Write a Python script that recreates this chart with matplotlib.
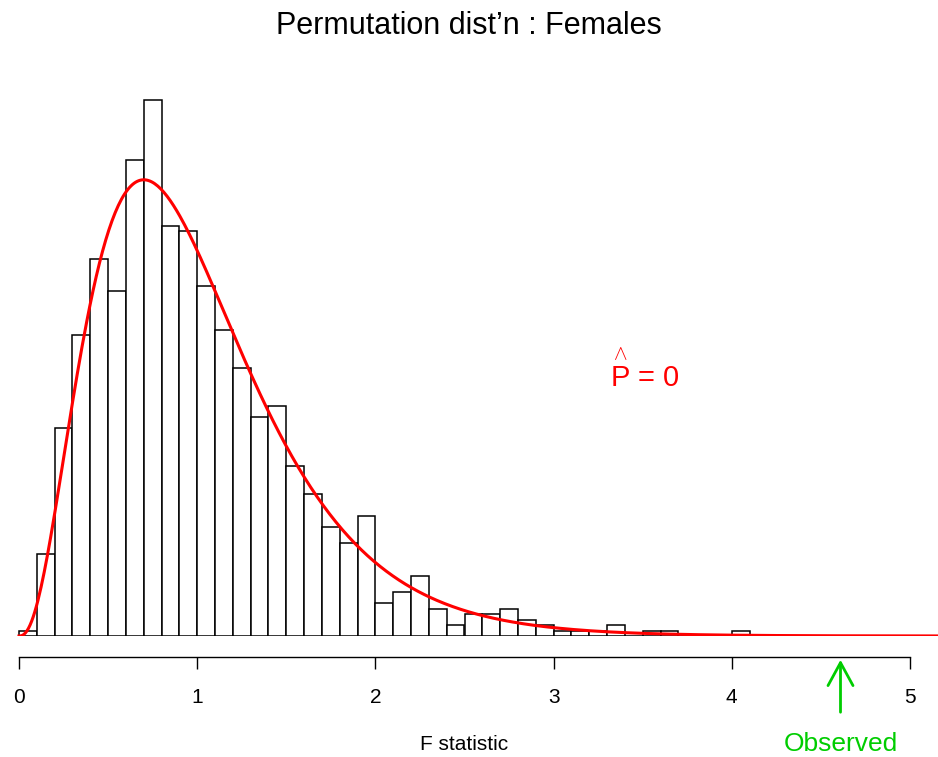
import math

import matplotlib
matplotlib.use('Agg')
import matplotlib.pyplot as plt
import numpy as np

plt.rcParams['font.family'] = ['Liberation Sans', 'DejaVu Sans']
plt.rcParams['mathtext.fontset'] = 'custom'
plt.rcParams['mathtext.rm'] = 'Liberation Sans'

# permutation counts in bins of width 0.1, starting at 0 (1000 permutations)
bin_left = np.round(np.arange(0, 4.1, 0.1), 1)
counts = [1, 15, 38, 55, 69, 63, 87, 98, 75, 74,
          64, 56, 49, 40, 42, 31, 26, 20, 17, 22,
          6, 8, 11, 5, 2, 4, 4, 5, 3, 2,
          1, 1, 1, 2, 0, 1, 1, 0, 0, 0,
          1]
n_perm = 1000
bin_width = 0.1
df1, df2 = 7, 100
observed = 4.61
p_hat = 0
x_ticks = [0, 1, 2, 3, 4, 5]


def f_pdf(x, d1, d2):
    x = np.asarray(x, dtype=float)
    out = np.zeros_like(x)
    pos = x > 0
    xp = x[pos]
    logc = (math.lgamma((d1 + d2) / 2) - math.lgamma(d1 / 2) - math.lgamma(d2 / 2)
            + (d1 / 2) * math.log(d1 / d2))
    out[pos] = np.exp(logc + (d1 / 2 - 1) * np.log(xp)
                      - ((d1 + d2) / 2) * np.log1p(d1 * xp / d2))
    return out


W, H = 938, 757
fig = plt.figure(figsize=(W / 100, H / 100), dpi=100)
# baseline at y px 636, density 1.0 spans 547 px
ax = fig.add_axes([0, (H - 636) / H, 1, 547 / H])
px_per_unit = (910 - 19) / 5
ax.set_xlim(-19 / px_per_unit, (W - 19) / px_per_unit)
ax.set_ylim(0, 1.0)

density = np.array(counts) / (n_perm * bin_width)
ax.bar(bin_left, density, width=bin_width, align='edge',
       facecolor='white', edgecolor='black', linewidth=1.1)

xs = np.linspace(0, 5.3, 600)
ax.plot(xs, f_pdf(xs, df1, df2), color='red', lw=2.2, clip_on=True)

ax.text(3.315, 0.485, r'$\overset{\wedge}{\mathrm{P}}$ = %d' % p_hat,
        color='red', fontsize=21, ha='left', va='center')

for s in ['top', 'left', 'right']:
    ax.spines[s].set_visible(False)
ax.spines['bottom'].set_position(('outward', 21 * 72 / 100))
ax.spines['bottom'].set_bounds(0, 5)
ax.spines['bottom'].set_linewidth(1.0)
ax.set_yticks([])
ax.set_xticks(x_ticks)
ax.set_xticklabels([str(t) for t in x_ticks])
ax.tick_params(axis='x', length=12 * 72 / 100, width=1.0, labelsize=15, pad=14)

fig.text(0.5, 1 - 26 / H, "Permutation dist\u2019n : Females", ha='center',
         va='center', fontsize=22)
fig.text(464 / W, 1 - 745 / H, 'F statistic',
         ha='center', va='center', fontsize=15)

# observed arrow below the axis
obs_px = 19 + observed * px_per_unit
ax.annotate('', xy=(obs_px / W, 1 - 657 / H), xytext=(obs_px / W, 1 - 715 / H),
            xycoords='figure fraction', textcoords='figure fraction',
            arrowprops=dict(arrowstyle='->, head_length=0.55, head_width=0.3',
                            color='#00CD00', lw=2, mutation_scale=30))
fig.text(obs_px / W, 1 - 744 / H, 'Observed', color='#00CD00', fontsize=19,
         ha='center', va='center')

fig.savefig('out.png', dpi=100)
